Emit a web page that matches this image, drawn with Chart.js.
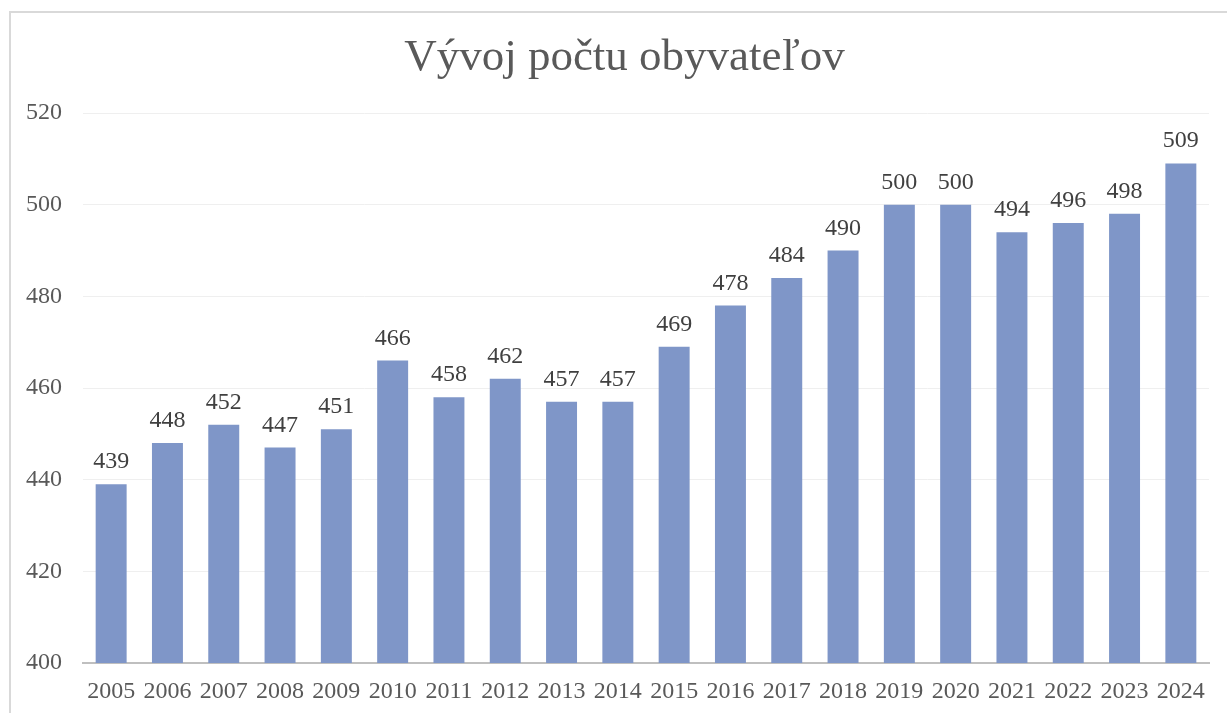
<!DOCTYPE html>
<html>
<head>
<meta charset="utf-8">
<script src="https://cdn.jsdelivr.net/npm/chart.js@4"></script>
<style>
  html, body { margin: 0; padding: 0; background: #fff; overflow: hidden; }
  #wrap { position: absolute; left: 0; top: 0; width: 1227px; height: 713px; }
  #frame { position: absolute; left: 9px; top: 11px; width: 1240px; height: 720px; border: 2px solid #D9D9D9; box-sizing: border-box; }
</style>
</head>
<body>
<div id="wrap">
  <div id="frame"></div>
  <canvas id="graf" width="1227" height="713"></canvas>
</div>
<script>
const roky = ['2005', '2006', '2007', '2008', '2009', '2010', '2011', '2012', '2013', '2014',
              '2015', '2016', '2017', '2018', '2019', '2020', '2021', '2022', '2023', '2024'];
const obyvatelia = [439, 448, 452, 447, 451, 466, 458, 462, 457, 457,
                    469, 478, 484, 490, 500, 500, 494, 496, 498, 509];
const nadpis = 'Vývoj počtu obyvateľov';
const osY = { min: 400, max: 520, krok: 20 };

const pismo = '"Liberation Serif", "Times New Roman", serif';

// popisky nad stlpcami
const popisky = {
  id: 'popisky',
  afterLayout(chart) {
    // nadpis je v povodnom grafe trochu posunuty doprava
    if (chart.titleBlock) chart.titleBlock.left = 40;
  },
  afterDatasetsDraw(chart) {
    const c = chart.ctx;
    const meta = chart.getDatasetMeta(0);
    c.save();
    c.font = '24px ' + pismo;
    c.fillStyle = '#404040';
    c.textAlign = 'center';
    c.textBaseline = 'alphabetic';
    meta.data.forEach((bar, i) => {
      c.fillText(String(obyvatelia[i]), bar.x, bar.y - 16);
    });
    c.restore();
  }
};

new Chart(document.getElementById('graf'), {
  type: 'bar',
  data: {
    labels: roky,
    datasets: [{
      data: obyvatelia,
      backgroundColor: '#7F96C8',
      borderWidth: 0,
      categoryPercentage: 1,
      barPercentage: 0.55
    }]
  },
  options: {
    responsive: false,
    animation: false,
    layout: { padding: { left: 0, right: 18, top: 0, bottom: 0 } },
    plugins: {
      legend: { display: false },
      tooltip: { enabled: false },
      title: {
        display: true,
        text: nadpis,
        color: '#595959',
        font: { family: pismo, size: 45, weight: 'normal' },
        padding: { top: 31, bottom: 28 }
      }
    },
    scales: {
      x: {
        grid: { display: false, drawTicks: false },
        border: { display: true, color: '#BFBFBF', width: 2 },
        ticks: { color: '#595959', font: { family: pismo, size: 24 }, padding: 14, maxRotation: 0, autoSkip: false },
        afterFit(s) { s.height = 50; }
      },
      y: {
        min: osY.min,
        max: osY.max,
        ticks: { stepSize: osY.krok, color: '#595959', font: { family: pismo, size: 24 }, padding: 21 },
        grid: { color: '#EFEFEF', lineWidth: 1, drawTicks: false },
        border: { display: false },
        afterFit(s) { s.width = 83; }
      }
    }
  },
  plugins: [popisky]
});
</script>
</body>
</html>
